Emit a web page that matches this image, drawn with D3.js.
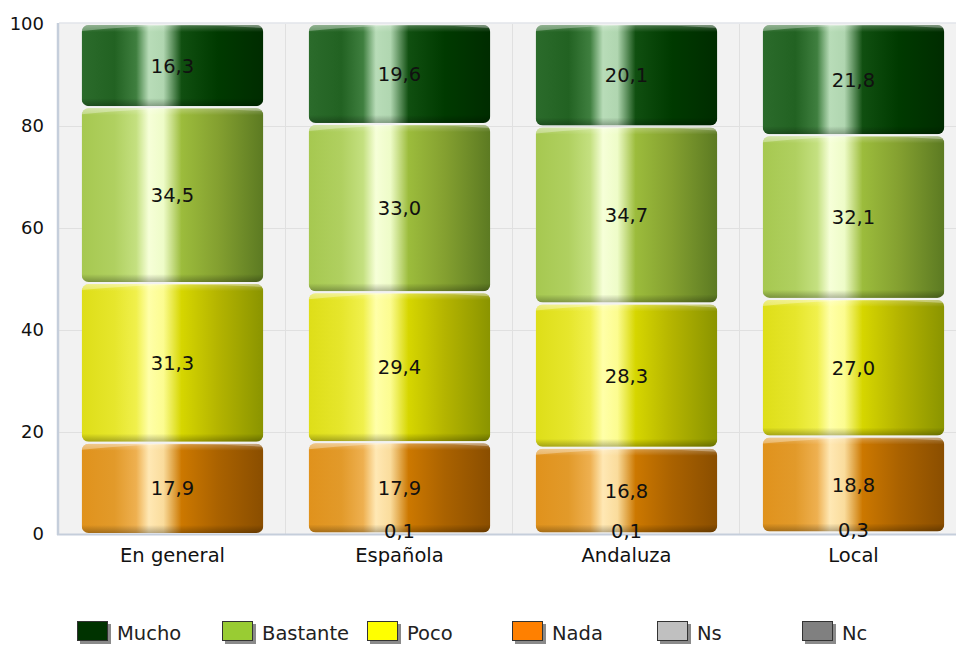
<!DOCTYPE html>
<html>
<head>
<meta charset="utf-8">
<script src="https://cdn.jsdelivr.net/npm/d3@7/dist/d3.min.js"></script>
<style>
html,body{margin:0;padding:0;background:#fff;}
svg{display:block;font-family:"DejaVu Sans",Verdana,sans-serif;}
</style>
</head>
<body>
<svg id="chart" width="956" height="646"></svg>
<script>
const categories = ["En general", "Española", "Andaluza", "Local"];
const seriesNames = ["Mucho", "Bastante", "Poco", "Nada", "Ns", "Nc"];
const mucho    = [16.3, 19.6, 20.1, 21.8];
const bastante = [34.5, 33.0, 34.7, 32.1];
const poco     = [31.3, 29.4, 28.3, 27.0];
const nada     = [17.9, 17.9, 16.8, 18.8];
const ns       = [0, 0.1, 0.1, 0.3];
const nc       = [0, 0, 0, 0];
const yTicks   = [0, 20, 40, 60, 80, 100];

const legendColors = {Mucho:"#003300", Bastante:"#99cc33", Poco:"#ffff00", Nada:"#ff8000", Ns:"#c0c0c0", Nc:"#808080"};
const gradStops = {
  Mucho:   ["#2b6b2b","#226222","#3f7f3f","#b8dcb8","#b0d6b0","#104f10","#003a00","#002c00"],
  Bastante:["#a6c850","#b0d060","#c4e080","#f6ffd8","#eefcc8","#9cbc3c","#84a030","#5c7a22"],
  Poco:    ["#dede18","#e6e62c","#f0f04c","#ffffa8","#fcfc90","#d6d600","#b4b400","#8a9400"],
  Nada:    ["#e0921c","#e29a2a","#eeb050","#ffe8b4","#fadc9c","#cc7800","#aa6200","#8a4e00"],
  Ns:      ["#c8c8c8","#cccccc","#dddddd","#f6f6f6","#f0f0f0","#b8b8b8","#a0a0a0","#888888"],
  Nc:      ["#8c8c8c","#909090","#a0a0a0","#d8d8d8","#d0d0d0","#7a7a7a","#666666","#505050"]
};
const stopOffsets = [0, 0.18, 0.3, 0.37, 0.45, 0.55, 0.75, 1];

const dataRows = categories.map((c, i) => ({
  cat: c, Mucho: mucho[i], Bastante: bastante[i], Poco: poco[i], Nada: nada[i], Ns: ns[i], Nc: nc[i]
}));

const svg = d3.select("#chart");
const defs = svg.append("defs");

const plot = {left: 59, right: 967, top: 24, bottom: 534};

const x = d3.scaleBand().domain(categories).range([plot.left, plot.right]).paddingInner(0.2).paddingOuter(0.1);
const y = d3.scaleLinear().domain([0, 100]).range([plot.bottom, plot.top]);

// gradients
seriesNames.forEach(s => {
  const g = defs.append("linearGradient").attr("id", "g-" + s).attr("x1", 0).attr("x2", 1).attr("y1", 0).attr("y2", 0);
  gradStops[s].forEach((c, i) => g.append("stop").attr("offset", stopOffsets[i]).attr("stop-color", c));
});
const topG = defs.append("linearGradient").attr("id", "topHL").attr("x1",0).attr("x2",0).attr("y1",0).attr("y2",1);
topG.append("stop").attr("offset",0).attr("stop-color","#fff").attr("stop-opacity",0.45);
topG.append("stop").attr("offset",1).attr("stop-color","#fff").attr("stop-opacity",0);
const botG = defs.append("linearGradient").attr("id", "botSh").attr("x1",0).attr("x2",0).attr("y1",0).attr("y2",1);
botG.append("stop").attr("offset",0).attr("stop-color","#000").attr("stop-opacity",0);
botG.append("stop").attr("offset",1).attr("stop-color","#000").attr("stop-opacity",0.28);

// plot background
svg.append("rect").attr("x", plot.left).attr("y", plot.top - 1).attr("width", plot.right - plot.left).attr("height", plot.bottom - plot.top + 1).attr("fill", "#f2f2f2");
svg.append("line").attr("x1", plot.left).attr("x2", plot.right).attr("y1", plot.top - 1).attr("y2", plot.top - 1).attr("stroke", "#e2e4ea").attr("stroke-width", 1.5);

// horizontal grid
svg.append("g").selectAll("line").data(yTicks.filter(t => t > 0 && t < 100)).join("line")
  .attr("x1", plot.left).attr("x2", plot.right)
  .attr("y1", d => Math.round(y(d)) + 0.5).attr("y2", d => Math.round(y(d)) + 0.5)
  .attr("stroke", "#e0e0e0").attr("stroke-width", 1);
// vertical grid at band boundaries
const step = x.step();
const bandStart = x(categories[0]) - step * x.paddingOuter();
svg.append("g").selectAll("line").data(categories).join("line")
  .attr("x1", (d, i) => Math.round(bandStart + step * (i + 1)) - 0.5)
  .attr("x2", (d, i) => Math.round(bandStart + step * (i + 1)) - 0.5)
  .attr("y1", plot.top).attr("y2", plot.bottom)
  .attr("stroke", "#e0e0e0").attr("stroke-width", 1);

// axis lines
svg.append("line").attr("x1", plot.left - 1).attr("x2", plot.left - 1).attr("y1", plot.top - 1).attr("y2", plot.bottom + 1).attr("stroke", "#c5cedb").attr("stroke-width", 2.5);
svg.append("line").attr("x1", plot.left - 2).attr("x2", plot.right).attr("y1", plot.bottom + 0.5).attr("y2", plot.bottom + 0.5).attr("stroke", "#c5cedb").attr("stroke-width", 2);

// y axis labels
const yAxis = d3.axisLeft(y).tickValues(yTicks).tickSize(0).tickPadding(0).tickFormat(d3.format("d"));
const yg = svg.append("g").attr("transform", "translate(44,0)").call(yAxis);
yg.select(".domain").remove();
yg.selectAll("text").attr("font-size", 18).attr("fill", "#111").attr("font-family", "DejaVu Sans, Verdana, sans-serif");

// x axis labels
const xAxis = d3.axisBottom(x).tickSize(0).tickPadding(0);
const xg = svg.append("g").attr("transform", "translate(0,548)").call(xAxis);
xg.select(".domain").remove();
xg.selectAll("text").attr("font-size", 19.5).attr("fill", "#111").attr("dy", "0.71em").attr("font-family", "DejaVu Sans, Verdana, sans-serif");

// stack
const stackOrder = ["Nc", "Ns", "Nada", "Poco", "Bastante", "Mucho"];
const stacked = d3.stack().keys(stackOrder)(dataRows);

const bw = x.bandwidth();
const segG = svg.append("g");
stacked.forEach(layer => {
  const key = layer.key;
  const g = segG.append("g");
  layer.forEach(d => {
    const cat = d.data.cat;
    const y0 = y(d[0]) - 1, y1 = y(d[1]) + 1;
    const h = y0 - y1;
    if (h < 3) return;
    const bx = x(cat);
    const clipId = "c-" + key + "-" + categories.indexOf(cat);
    defs.append("clipPath").attr("id", clipId).append("rect")
      .attr("x", bx).attr("y", y1).attr("width", bw).attr("height", h).attr("rx", 7).attr("ry", 7);
    const sg = g.append("g").attr("clip-path", "url(#" + clipId + ")");
    sg.append("rect").attr("x", bx).attr("y", y1).attr("width", bw).attr("height", h).attr("fill", "url(#g-" + key + ")");
    // top rim highlight
    sg.append("path")
      .attr("d", `M${bx},${y1 + 6} Q${bx + bw * 0.5},${y1 - 3} ${bx + bw},${y1 + 3} L${bx + bw},${y1} L${bx},${y1} Z`)
      .attr("fill", "#fff").attr("opacity", 0.3);
    sg.append("rect").attr("x", bx).attr("y", y1).attr("width", bw).attr("height", 7).attr("fill", "url(#topHL)").attr("opacity", 0.6);
    // bottom shade
    sg.append("rect").attr("x", bx).attr("y", y0 - 8).attr("width", bw).attr("height", 8).attr("fill", "url(#botSh)");
  });
});

// value labels
const fmt = v => d3.format(".1f")(v).replace(".", ",");
const labG = svg.append("g");
stacked.forEach(layer => {
  layer.forEach(d => {
    const v = d[1] - d[0];
    if (!(v > 0)) return;
    labG.append("text")
      .attr("x", x(d.data.cat) + bw / 2)
      .attr("y", (y(d[0]) + y(d[1])) / 2 - (v < 1 ? 3 : 0))
      .attr("text-anchor", "middle").attr("dy", "0.36em")
      .attr("font-size", 19.5).attr("fill", "#111")
      .text(fmt(v));
  });
});

// legend
const legX = d3.scalePoint().domain(seriesNames).range([77, 802]);
const leg = svg.append("g");
seriesNames.forEach(s => {
  const lx = legX(s);
  const g = leg.append("g").attr("transform", `translate(${lx},621)`);
  g.append("rect").attr("x", 3).attr("y", 3).attr("width", 31).attr("height", 20).attr("fill", "#8a8a8a");
  g.append("rect").attr("x", 0.5).attr("y", 0.5).attr("width", 30).attr("height", 19).attr("fill", legendColors[s]).attr("stroke", "#333").attr("stroke-width", 1);
  g.append("text").attr("x", 40).attr("y", 11.5).attr("dy", "0.36em").attr("font-size", 19.5).attr("fill", "#222").text(s);
});
</script>
</body>
</html>
